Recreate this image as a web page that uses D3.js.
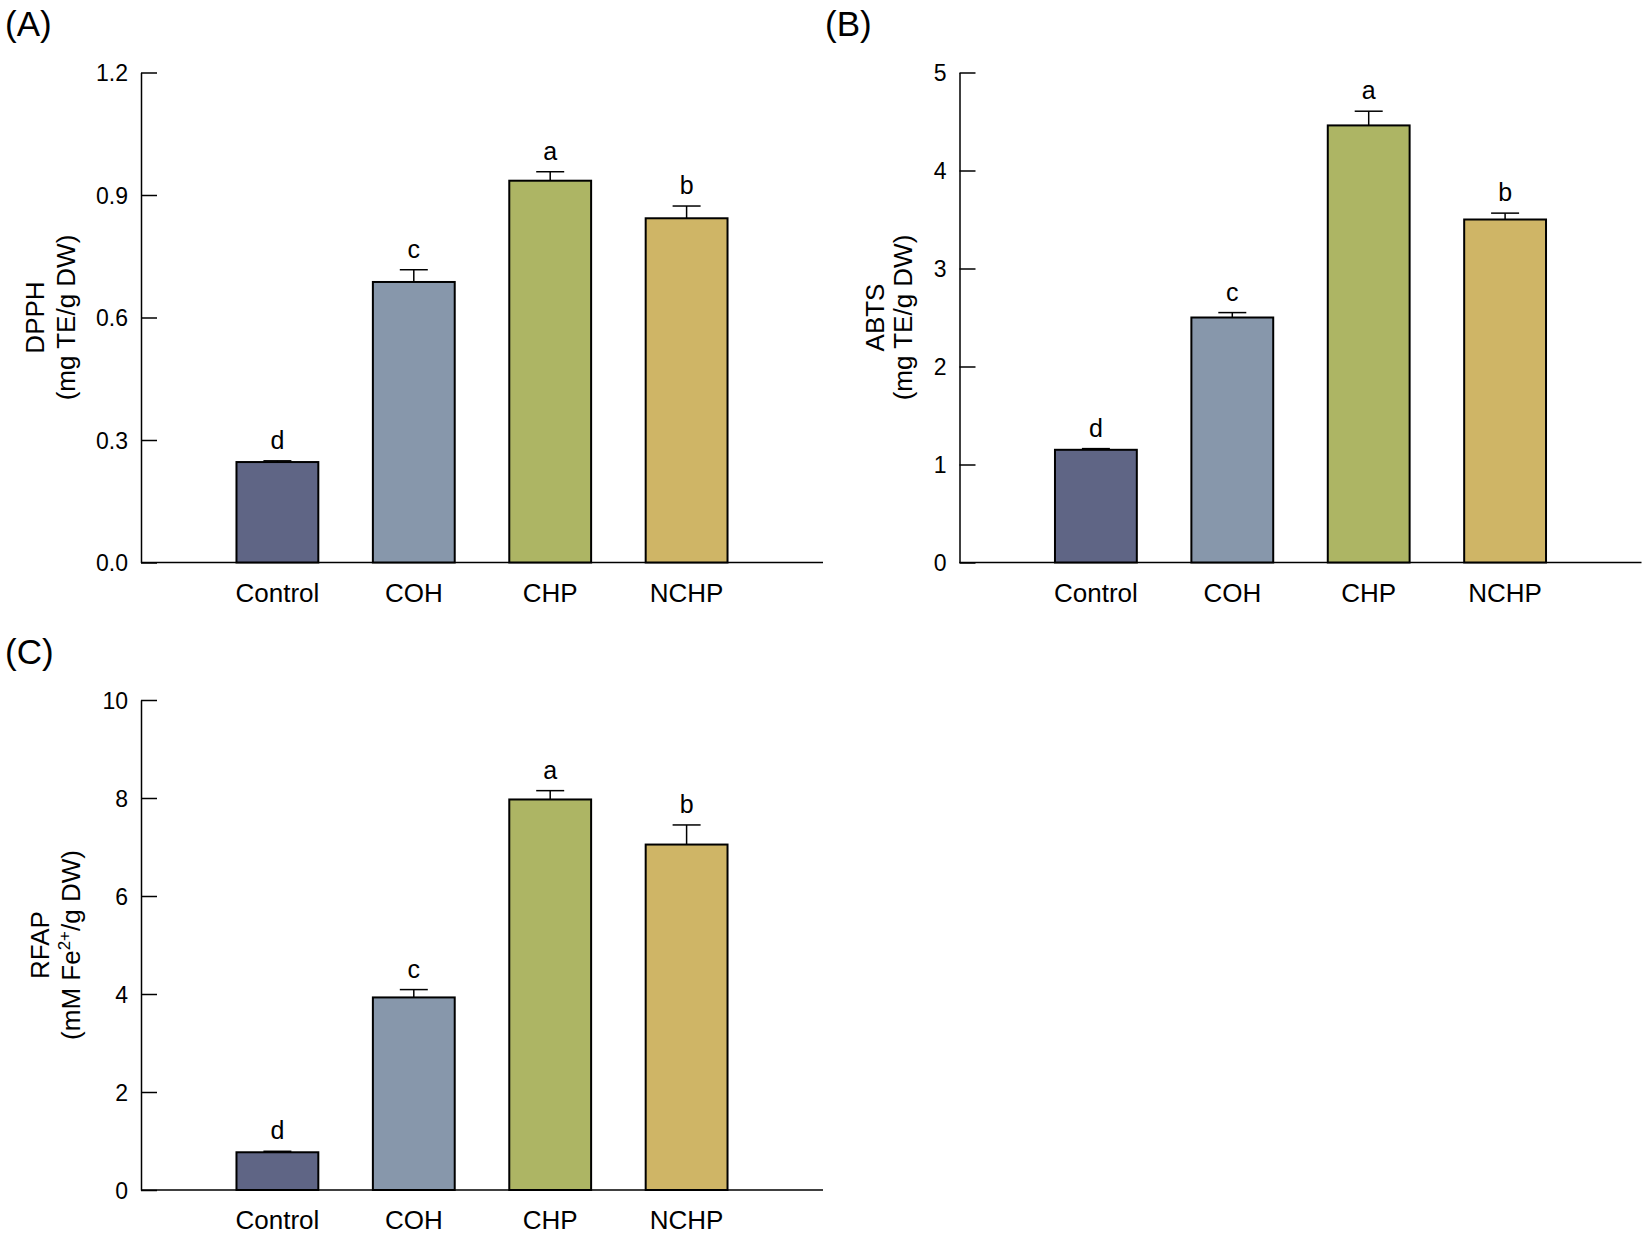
<!DOCTYPE html>
<html lang="en">
<head>
    <meta charset="UTF-8">
    <title>Antioxidant capacity</title>
    <script src="https://d3js.org/d3.v7.min.js"></script>
    <style>
        body { margin: 0; background: #fff; }
        svg { display: block; font-family: "Liberation Sans", Arial, sans-serif; }
        .tick text { font-size: 23px; fill: #000; }
        .tick line, .domain { stroke: #000; stroke-width: 1.5px; }
    </style>
</head>
<body>
<div id="chart"></div>

<script>
    // groups and colours
    const groups = ["Control", "COH", "CHP", "NCHP"];
    const barColors = ["#5f6585", "#8797ab", "#adb564", "#cfb566"];

    // (A) DPPH
    const dpphMean = [0.246, 0.687, 0.935, 0.843];
    const dpphErr = [0.003, 0.030, 0.022, 0.030];
    const dpphLetters = ["d", "c", "a", "b"];
    const dpphTicks = [0, 0.3, 0.6, 0.9, 1.2];

    // (B) ABTS
    const abtsMean = [1.15, 2.50, 4.46, 3.50];
    const abtsErr = [0.012, 0.05, 0.145, 0.065];
    const abtsLetters = ["d", "c", "a", "b"];
    const abtsTicks = [0, 1, 2, 3, 4, 5];

    // (C) FRAP
    const frapMean = [0.77, 3.93, 7.97, 7.05];
    const frapErr = [0.02, 0.16, 0.18, 0.40];
    const frapLetters = ["d", "c", "a", "b"];
    const frapTicks = [0, 2, 4, 6, 8, 10];

    const svg = d3.select("#chart").append("svg")
        .attr("width", 1644)
        .attr("height", 1236);

    const plotW = 682, plotH = 490;

    function drawPanel(p) {
        const g = svg.append("g").attr("transform", `translate(${p.left},${p.top})`);

        const x = d3.scaleBand().domain(groups).range([0, plotW])
            .paddingInner(0.4).paddingOuter(0.7);
        const y = d3.scaleLinear().domain([0, d3.max(p.ticks)]).range([plotH, 0]);

        // panel tag
        svg.append("text")
            .attr("x", p.tagX).attr("y", p.tagY)
            .style("font-size", "35px")
            .text(p.tag);

        // y axis, ticks pointing inward
        g.append("g")
            .call(d3.axisLeft(y).tickValues(p.ticks).tickFormat(d3.format(p.fmt))
                .tickSize(-16).tickSizeOuter(0).tickPadding(13))
            .call(a => a.selectAll(".tick text").attr("dy", "0.36em"));

        // x axis: baseline only
        g.append("line")
            .attr("x1", 0).attr("x2", plotW)
            .attr("y1", plotH).attr("y2", plotH)
            .attr("stroke", "#000").attr("stroke-width", 1.5);

        const data = groups.map((k, i) => ({ k, m: p.mean[i], e: p.err[i], l: p.letters[i], c: barColors[i] }));

        // bars
        g.selectAll(".bar").data(data).enter().append("rect")
            .attr("class", "bar")
            .attr("x", d => x(d.k))
            .attr("y", d => y(d.m))
            .attr("width", x.bandwidth())
            .attr("height", d => plotH - y(d.m))
            .attr("fill", d => d.c)
            .attr("stroke", "#000")
            .attr("stroke-width", 2);

        // error bars
        const cx = d => x(d.k) + x.bandwidth() / 2;
        g.selectAll(".err").data(data).enter().append("line")
            .attr("x1", cx).attr("x2", cx)
            .attr("y1", d => y(d.m)).attr("y2", d => y(d.m + d.e))
            .attr("stroke", "#000").attr("stroke-width", 1.5);
        g.selectAll(".cap").data(data).enter().append("line")
            .attr("x1", d => cx(d) - 14).attr("x2", d => cx(d) + 14)
            .attr("y1", d => y(d.m + d.e)).attr("y2", d => y(d.m + d.e))
            .attr("stroke", "#000").attr("stroke-width", 1.5);

        // significance letters
        g.selectAll(".sig").data(data).enter().append("text")
            .attr("x", cx)
            .attr("y", d => y(d.m + d.e) - 12)
            .attr("text-anchor", "middle")
            .style("font-size", "25px")
            .text(d => d.l);

        // category labels
        g.selectAll(".cat").data(data).enter().append("text")
            .attr("x", cx)
            .attr("y", plotH + 39)
            .attr("text-anchor", "middle")
            .style("font-size", "26px")
            .text(d => d.k);

        // y label (two lines, rotated)
        const yc = plotH / 2;
        g.append("text")
            .attr("transform", `translate(${p.lab1},${yc}) rotate(-90)`)
            .attr("text-anchor", "middle")
            .style("font-size", "26px")
            .text(p.title);
        const l2 = g.append("text")
            .attr("transform", `translate(${p.lab2},${yc}) rotate(-90)`)
            .attr("text-anchor", "middle")
            .style("font-size", "26px");
        if (p.sup) {
            l2.append("tspan").text(p.unitA);
            l2.append("tspan").attr("dy", -10).style("font-size", "17px").text(p.sup);
            l2.append("tspan").attr("dy", 10).text(p.unitB);
        } else {
            l2.text(p.unit);
        }
    }

    drawPanel({
        tag: "(A)", tagX: 5, tagY: 36, left: 141, top: 72.5,
        mean: dpphMean, err: dpphErr, letters: dpphLetters, ticks: dpphTicks, fmt: ".1f",
        title: "DPPH", unit: "(mg TE/g DW)", lab1: -97, lab2: -66
    });

    drawPanel({
        tag: "(B)", tagX: 825, tagY: 36, left: 959.5, top: 72.5,
        mean: abtsMean, err: abtsErr, letters: abtsLetters, ticks: abtsTicks, fmt: "d",
        title: "ABTS", unit: "(mg TE/g DW)", lab1: -76, lab2: -48
    });

    drawPanel({
        tag: "(C)", tagX: 5, tagY: 664, left: 141, top: 700,
        mean: frapMean, err: frapErr, letters: frapLetters, ticks: frapTicks, fmt: "d",
        title: "RFAP", unitA: "(mM Fe", sup: "2+", unitB: "/g DW)", lab1: -92, lab2: -61
    });
</script>
</body>
</html>
